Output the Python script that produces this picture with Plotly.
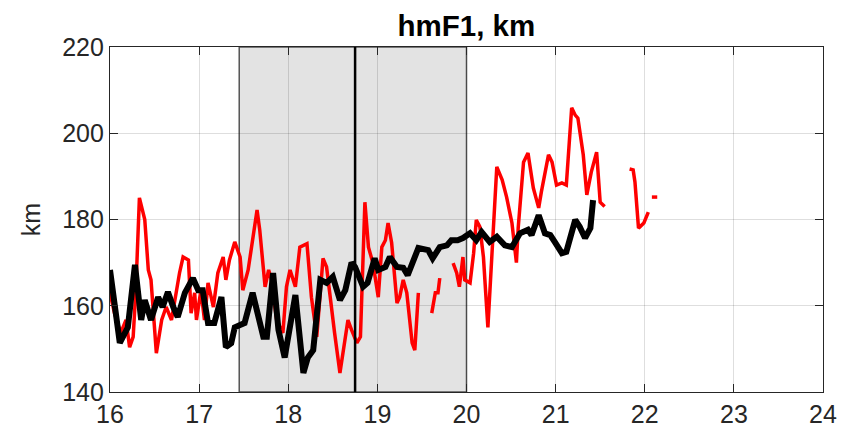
import plotly.graph_objects as go

# Black series (model / median)
black_t = [16.00, 16.11, 16.20, 16.28, 16.35, 16.39, 16.46, 16.54, 16.59, 16.65,
           16.71, 16.76, 16.84, 16.93, 16.99, 17.04, 17.10, 17.17, 17.25, 17.30,
           17.36, 17.40, 17.51, 17.60, 17.72, 17.76, 17.83, 17.89, 17.96, 18.02,
           18.08, 18.17, 18.22, 18.28, 18.36, 18.43, 18.50, 18.58, 18.64, 18.71,
           18.75, 18.84, 18.89, 18.97, 19.01, 19.09, 19.14, 19.22, 19.29, 19.34,
           19.46, 19.57, 19.62, 19.70, 19.78, 19.83, 19.90, 19.96, 20.04, 20.11,
           20.17, 20.26, 20.34, 20.43, 20.51, 20.60, 20.69, 20.73, 20.81, 20.88,
           20.94, 20.99, 21.07, 21.12, 21.22, 21.27, 21.33, 21.39, 21.42]
black_h = [168.3, 151.4, 155.0, 169.5, 156.7, 161.3, 156.7, 162.0, 159.7, 163.2,
           159.7, 157.4, 163.0, 166.4, 163.6, 163.6, 156.0, 156.0, 162.0, 150.4,
           151.3, 155.0, 156.0, 163.0, 152.8, 152.8, 167.6, 154.4, 148.0, 154.4,
           162.5, 144.4, 148.0, 149.7, 166.0, 165.3, 166.7, 161.3, 163.6, 170.0,
           169.0, 164.4, 165.3, 171.0, 168.3, 169.0, 171.3, 169.0, 168.8, 167.1,
           173.4, 172.9, 171.0, 173.6, 174.0, 175.2, 175.2, 175.7, 176.8, 175.2,
           177.1, 174.8, 176.0, 174.0, 173.6, 176.8, 177.6, 176.4, 181.0, 176.8,
           176.4, 174.8, 172.2, 172.5, 179.9, 178.3, 175.7, 178.0, 184.5]

# Red series (observations, with gaps)
red_t = [16.00, 16.05, 16.12, 16.18, 16.22, 16.26, 16.29, 16.33, 16.39, 16.43,
         16.46, 16.52, 16.58, 16.63, 16.69, 16.73, 16.78, 16.82, 16.88, 16.91,
         16.95, 16.97, 17.02, 17.06, 17.10, 17.16, 17.21, 17.27, 17.30, 17.34,
         17.40, 17.46, 17.49, 17.55, 17.59, 17.65, 17.68, 17.72, 17.74, 17.78,
         17.81, 17.87, 17.94, 17.98, 18.02, 18.08, 18.13, 18.21, 18.26, 18.32,
         18.36, 18.39, 18.43, 18.49, 18.52, 18.58, 18.64, 18.67, 18.71, 18.77,
         18.81, 18.86, 18.90, 18.95, 19.01, 19.05, 19.09, 19.12, 19.16, 19.22,
         19.25, 19.29, 19.33, 19.39, 19.42, 19.46, 19.53,
         19.61, 19.65, 19.68, 19.70, 19.78,
         19.85, 19.89, 19.92, 19.96, 19.98, 20.04, 20.08, 20.11, 20.15, 20.19,
         20.24, 20.28, 20.34, 20.40, 20.45, 20.51, 20.56, 20.58, 20.64, 20.69,
         20.75, 20.81, 20.84, 20.92, 20.96, 21.01, 21.07, 21.12, 21.18, 21.22,
         21.25, 21.31, 21.35, 21.40, 21.46, 21.50, 21.55, 21.70,
         21.83, 21.87, 21.89, 21.93, 21.99, 22.04, 22.06,
         22.08, 22.14]
red_h = [163.0, 158.3, 153.7, 156.7, 150.4, 152.8, 163.6, 185.0, 180.0, 168.3,
         166.0, 149.0, 156.7, 159.7, 156.7, 162.0, 167.6, 171.3, 170.6, 158.3,
         163.0, 156.7, 163.6, 156.7, 165.3, 159.7, 167.6, 171.3, 166.0, 170.6,
         174.8, 171.3, 163.6, 168.3, 174.4, 182.2, 177.6, 168.3, 164.4, 168.3,
         166.0, 156.7, 153.7, 164.4, 168.3, 164.4, 173.6, 174.4, 162.0, 152.8,
         163.0, 171.0, 169.0, 158.3, 153.7, 144.4, 152.0, 156.7, 154.4, 151.4,
         152.8, 184.0, 173.6, 169.9, 162.0, 173.6, 175.2, 179.2, 174.6, 160.6,
         162.0, 166.0, 163.0, 151.4, 149.7, 163.0, None,
         158.3, 163.0, 163.0, 166.4, None,
         169.9, 167.6, 164.4, 171.3, 166.0, 165.3, 172.2, 179.9, 178.3, 171.3,
         155.0, 170.6, 192.2, 189.2, 185.2, 179.2, 170.0, 178.0, 193.3, 195.4,
         187.3, 182.7, 186.4, 195.0, 193.3, 188.0, 188.5, 188.0, 205.9, 204.2,
         203.5, 195.0, 185.7, 191.0, 195.6, 184.0, 183.0, None,
         191.7, 191.5, 188.7, 178.0, 179.2, 181.7, None,
         185.2, 185.2]

x_ticks = [16, 17, 18, 19, 20, 21, 22, 23, 24]
y_ticks = [140, 160, 180, 200, 220]
shade_start, shade_end = 17.45, 20.0
marker_time = 18.75

FONT = "Liberation Sans, Arial, Helvetica, sans-serif"

fig = go.Figure()
fig.add_trace(go.Scatter(x=red_t, y=red_h, mode="lines", connectgaps=False,
                         line=dict(color="#ff0000", width=3.5), showlegend=False))
fig.add_trace(go.Scatter(x=black_t, y=black_h, mode="lines",
                         line=dict(color="#000000", width=6), showlegend=False))

fig.add_shape(type="rect", xref="x", yref="y", x0=shade_start, x1=shade_end,
              y0=140, y1=220, fillcolor="#e3e3e3",
              line=dict(color="#555555", width=1.5), layer="below")
fig.add_shape(type="line", xref="x", yref="y", x0=marker_time, x1=marker_time,
              y0=140, y1=220, line=dict(color="#000000", width=2.5), layer="above")

axis_common = dict(showgrid=True, gridcolor="rgba(0,0,0,0.13)", gridwidth=1,
                   showline=True, linecolor="#262626", linewidth=1.2,
                   mirror="ticks", ticks="inside", ticklen=8, tickcolor="#262626",
                   tickfont=dict(family=FONT, size=25, color="#262626"),
                   zeroline=False, automargin=False)

fig.update_xaxes(range=[16, 24], tickvals=x_ticks, ticktext=[str(v) for v in x_ticks],
                 **axis_common)
fig.update_yaxes(range=[140, 220], tickvals=y_ticks, ticktext=[str(v) for v in y_ticks],
                 **axis_common)

fig.add_annotation(text="km", xref="paper", yref="paper", x=-0.111, y=0.5,
                   textangle=-90, showarrow=False,
                   font=dict(family=FONT, size=25, color="#262626"),
                   xanchor="center", yanchor="middle")

fig.update_layout(
    width=841, height=429,
    margin=dict(l=110, r=18, t=47, b=37, autoexpand=False),
    paper_bgcolor="white", plot_bgcolor="white",
    title=dict(text="<b>hmF1, km</b>", x=0.5545, xanchor="center",
               y=1 - 26 / 429, yanchor="middle", yref="container",
               font=dict(family=FONT, size=29.5, color="#000000")),
)

fig.write_html("out.html")
